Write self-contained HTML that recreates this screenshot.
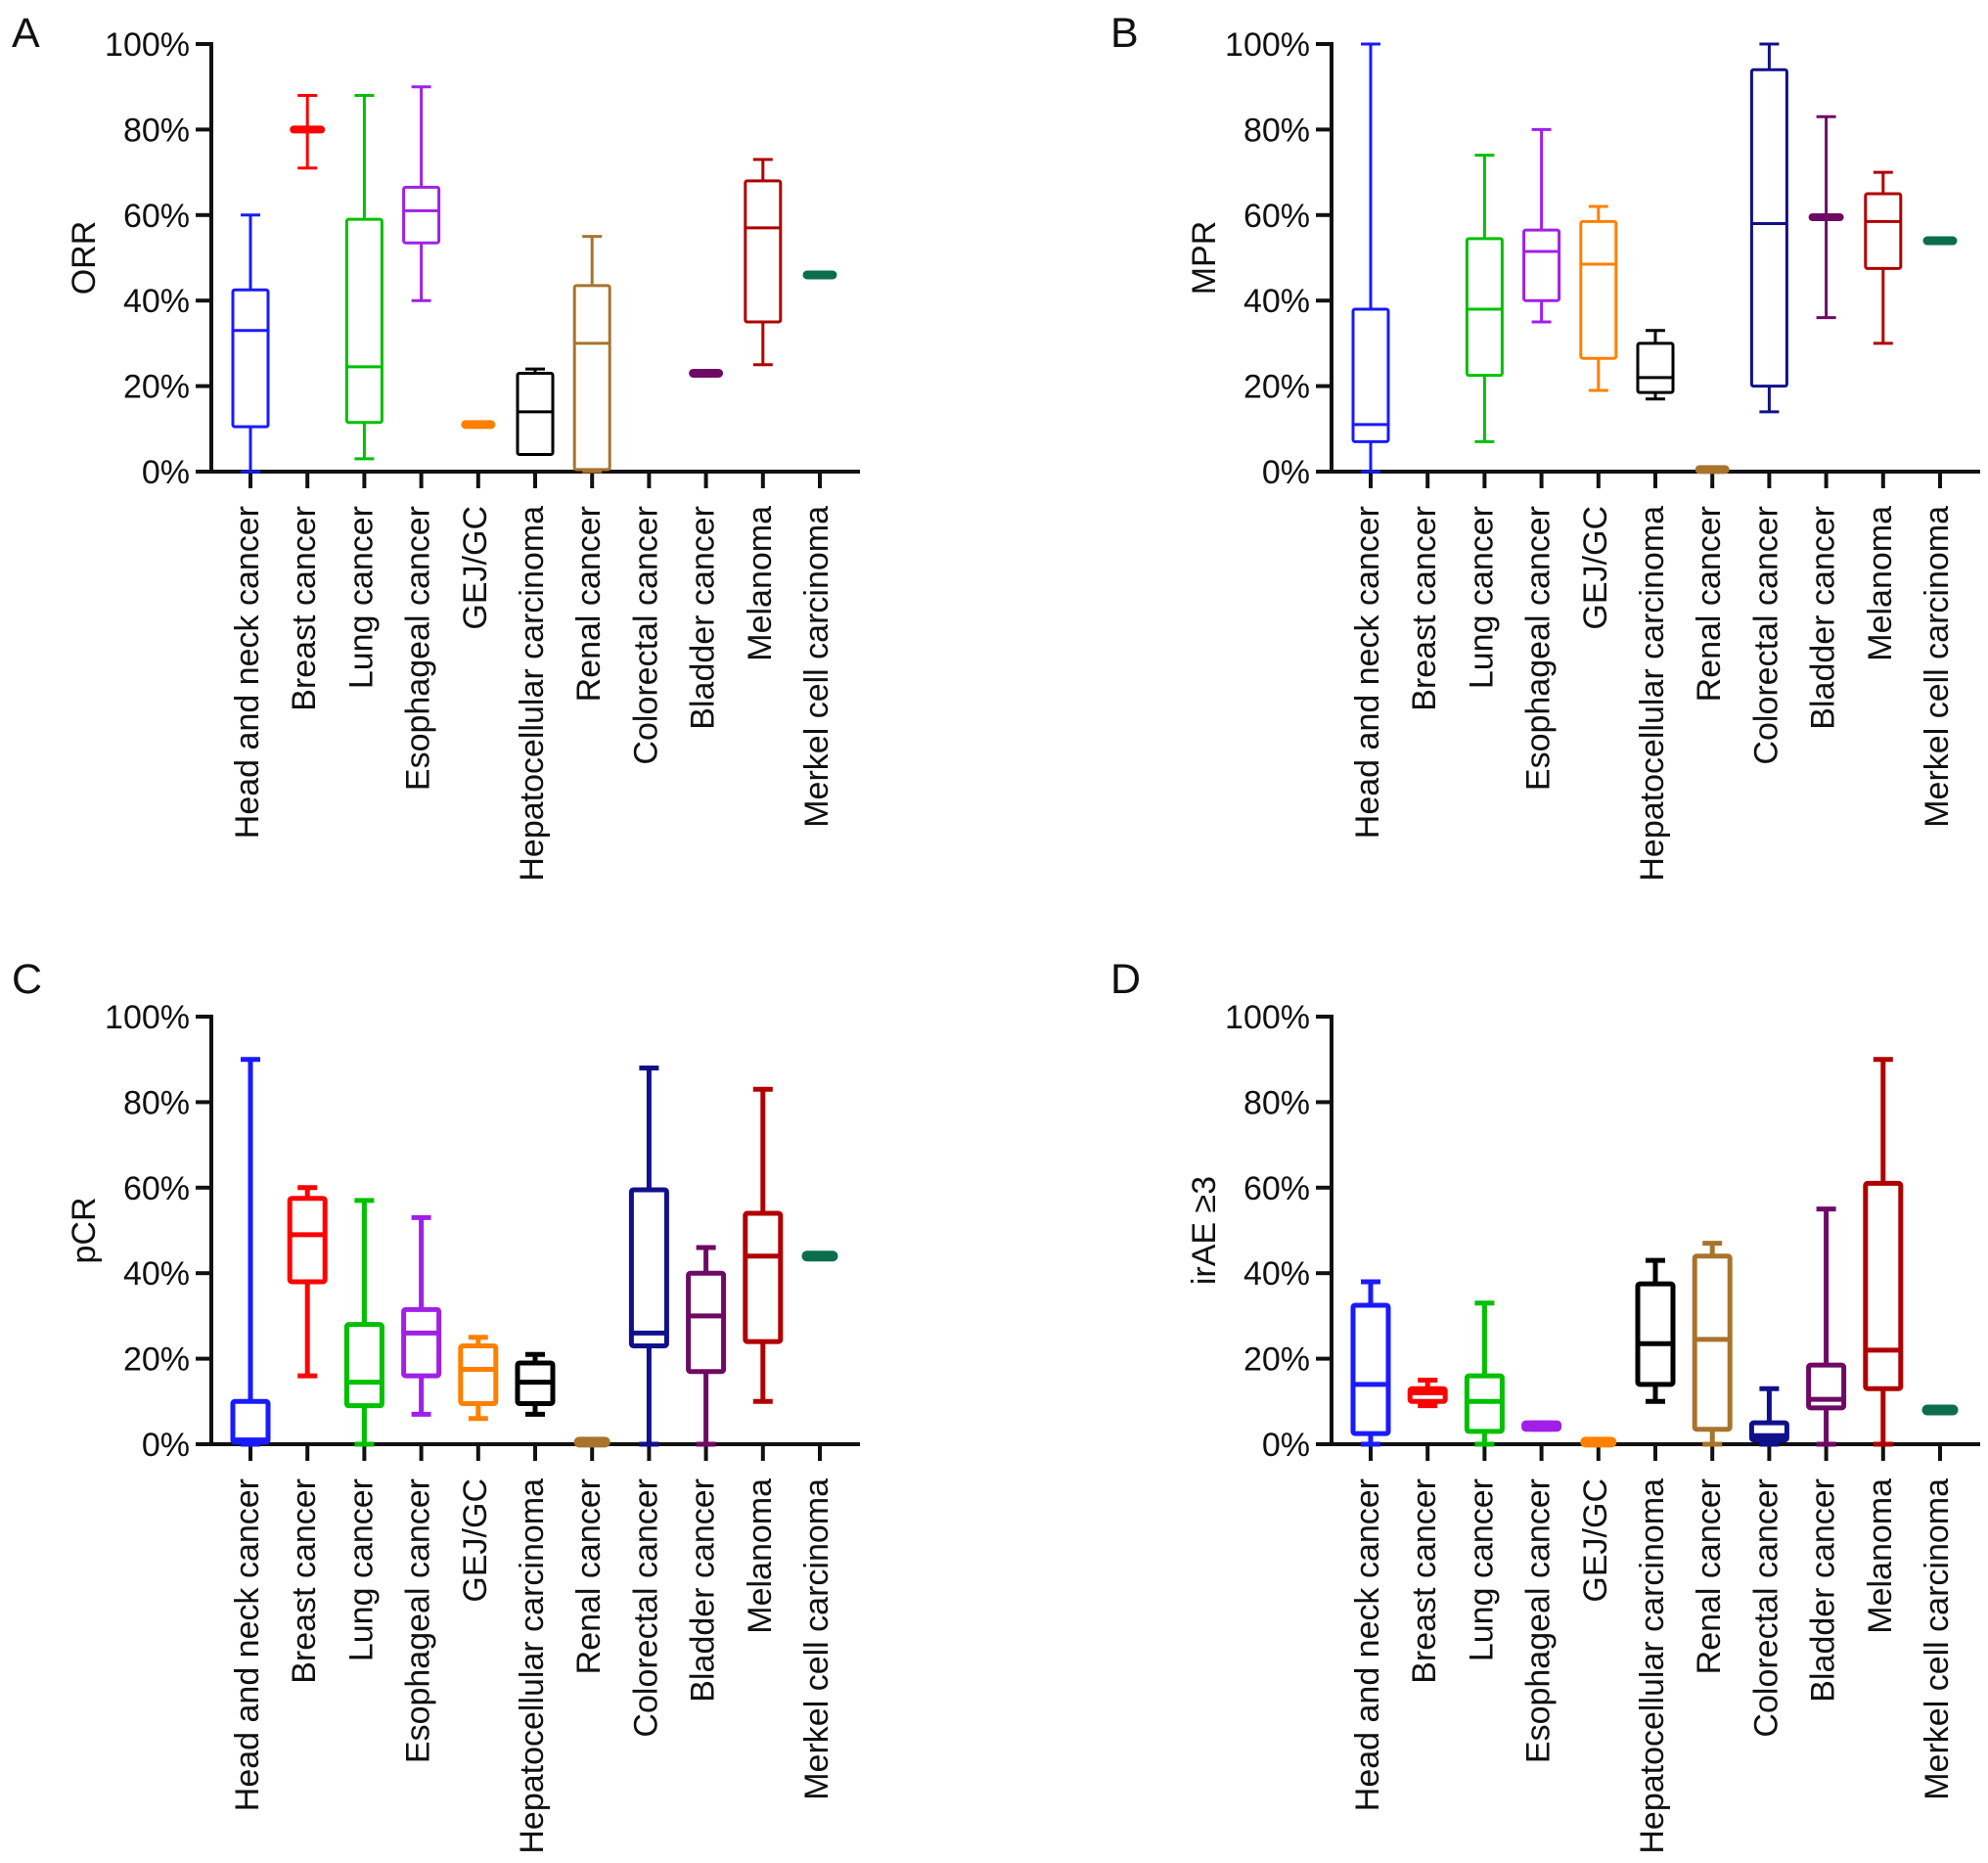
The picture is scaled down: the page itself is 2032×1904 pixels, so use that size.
<!DOCTYPE html>
<html><head><meta charset="utf-8">
<style>
html,body{margin:0;padding:0;background:#fff;}
svg{display:block;font-family:"Liberation Sans",Arial,sans-serif;}
</style></head>
<body>
<svg id="fig" width="2032" height="1904" viewBox="0 0 2032 1904" xmlns="http://www.w3.org/2000/svg"></svg>
<script>
const categories = ["Head and neck cancer","Breast cancer","Lung cancer","Esophageal cancer","GEJ/GC","Hepatocellular carcinoma","Renal cancer","Colorectal cancer","Bladder cancer","Melanoma","Merkel cell carcinoma"];
const colors = ["#1a1aff","#ff0000","#00c000","#a020e8","#ff8000","#000000","#a8742c","#10108c","#6e0a64","#b00000","#0a6e4c"];
const yTicks = [0,20,40,60,80,100];
const yTickLabels = ["0%","20%","40%","60%","80%","100%"];
// each entry: [min, q1, median, q3, max] or null
const orrData = [[0,10.5,33,42.5,60],[71,80,80,80,88],[3,11.5,24.5,59,88],[40,53.5,61,66.5,90],[11,11,11,11,11],[4,4,14,23,24],[0,0.5,30,43.5,55],null,[23,23,23,23,23],[25,35,57,68,73],[46,46,46,46,46]];
const mprData = [[0,7,11,38,100],null,[7,22.5,38,54.5,74],[35,40,51.5,56.5,80],[19,26.5,48.5,58.5,62],[17,18.5,22,30,33],[0.5,0.5,0.5,0.5,0.5],[14,20,58,94,100],[36,59.5,59.5,59.5,83],[30,47.5,58.5,65,70],[54,54,54,54,54]];
const pcrData = [[0,0.5,1,10,90],[16,38,49,57.5,60],[0,9,14.5,28,57],[7,16,26,31.5,53],[6,9.5,17.5,23,25],[7,9.5,14.5,19,21],[0.5,0.5,0.5,0.5,0.5],[0,23,26,59.5,88],[0,17,30,40,46],[10,24,44,54,83],[44,44,44,44,44]];
const iraeData = [[0,2.5,14,32.5,38],[9,10,12,13,15],[0,3,10,16,33],[3.5,3.5,4,5,5],[0.5,0.5,0.5,0.5,0.5],[10,14,23.5,37.5,43],[0,3.5,24.5,44,47],[0,1,2,5,13],[0,8.5,10.5,18.5,55],[0,13,22,61,90],[8,8,8,8,8]];

const panels = [
  {letter:"A", title:"ORR", data:orrData, dx:0, dy:0, sw:3, lx:12, ly:48},
  {letter:"B", title:"MPR", data:mprData, dx:1145, dy:0, sw:3, lx:-10, ly:48},
  {letter:"C", title:"pCR", data:pcrData, dx:0, dy:994, sw:5, lx:12, ly:21},
  {letter:"D", title:"irAE \u22653", data:iraeData, dx:1145, dy:994, sw:5, lx:-10, ly:21}
];
const NS = "http://www.w3.org/2000/svg";
const svg = document.getElementById("fig");
function mk(tag, attrs, parent){ const e=document.createElementNS(NS,tag); for(const k in attrs) e.setAttribute(k,attrs[k]); (parent||svg).appendChild(e); return e; }

panels.forEach(p=>{
  const g = mk("g",{transform:`translate(${p.dx},${p.dy})`});
  
  
  const axisX=216, y0=482, y100=45, cat0=256, step=58.2;
  const yScale = v => y0 - (y0-y100)*v/100;
  const xScale = i => cat0 + step*i;
  const lt = mk("text",{x:p.lx,y:p.ly,"font-size":43,fill:"#111"},g); lt.textContent=p.letter;
  
  
  const yt = mk("text",{x:0,y:0,"font-size":34,fill:"#111","text-anchor":"middle",transform:`translate(97,${(y0+y100)/2}) rotate(-90)`},g); yt.textContent=p.title;
  
  
  const ya = mk("line",{x1:axisX,y1:y100-2,x2:axisX,y2:y0+2,stroke:"#111","stroke-width":4},g);
  
  
  const xa = mk("line",{x1:axisX-16,y1:y0,x2:879,y2:y0,stroke:"#111","stroke-width":4},g);
  
  
  yTicks.forEach((t,i)=>{
    mk("line",{x1:axisX-16,y1:yScale(t),x2:axisX,y2:yScale(t),stroke:"#111","stroke-width":4},g);
    const tl = mk("text",{x:axisX-22,y:yScale(t)+12,"font-size":34,fill:"#111","text-anchor":"end"},g);
    tl.textContent=yTickLabels[i];
    
    
  });
  categories.forEach((c,i)=>{
    const x=xScale(i);
    mk("line",{x1:x,y1:y0,x2:x,y2:y0+17,stroke:"#111","stroke-width":4},g);
    const cl = mk("text",{x:0,y:0,"font-size":34,fill:"#111","text-anchor":"end",transform:`translate(${x+8},${y0+35}) rotate(-90)`},g);
    cl.textContent=c;
    
    
    const d=p.data[i];
    if(!d) return;
    const bg = mk("g",{stroke:colors[i],"stroke-width":p.sw,fill:"none"},g);
    
    
    const [mn,q1,md,q3,mx]=d;
    const bw=36, cw=20;
    if(mn===mx){
      mk("line",{x1:x-bw/2+5,y1:yScale(md),x2:x+bw/2-5,y2:yScale(md),"stroke-width":p.sw+6,"stroke-linecap":"round"},bg);
      return;
    }
    mk("line",{x1:x,y1:yScale(mx),x2:x,y2:yScale(q3)},bg);
    mk("line",{x1:x,y1:yScale(q1),x2:x,y2:yScale(mn)},bg);
    mk("line",{x1:x-cw/2,y1:yScale(mx),x2:x+cw/2,y2:yScale(mx)},bg);
    mk("line",{x1:x-cw/2,y1:yScale(mn),x2:x+cw/2,y2:yScale(mn)},bg);
    if(q3-q1<0.01){
      mk("line",{x1:x-bw/2+4,y1:yScale(md),x2:x+bw/2-4,y2:yScale(md),"stroke-width":p.sw+5,"stroke-linecap":"round"},bg);
    } else {
      mk("rect",{x:x-bw/2,y:yScale(q3),width:bw,height:yScale(q1)-yScale(q3),rx:2},bg);
      mk("line",{x1:x-bw/2,y1:yScale(md),x2:x+bw/2,y2:yScale(md)},bg);
    }
  });
});
</script>
</body></html>
